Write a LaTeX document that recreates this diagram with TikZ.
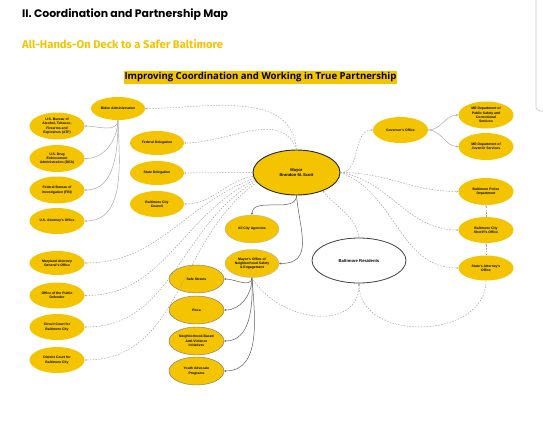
\documentclass[tikz,border=0pt]{standalone}
\usepackage{fontspec}
\setmainfont{Liberation Sans}
\newfontfamily\titlefont{Poppins}
\newfontfamily\subfont{Fira Sans}
\newfontfamily\bannerfont{Open Sans}
\usepackage{xcolor}
\usepackage{tikz}
\usetikzlibrary{shapes.geometric,arrows.meta}
\definecolor{gold}{RGB}{245,196,0}
\definecolor{linkgray}{RGB}{165,165,165}
\definecolor{edgedark}{RGB}{95,95,95}

\begin{document}
\begin{tikzpicture}[x=1pt,y=-1pt,
	office/.style={ellipse, fill=gold, minimum width=55pt, minimum height=26pt, inner sep=0pt, align=center, font=\fontsize{3.4}{4.3}\selectfont\bfseries},
	program/.style={office, draw=black!55, line width=0.4pt, minimum height=28pt},
	fedlink/.style={draw=linkgray, line width=0.45pt, -{Stealth[length=2.2pt,width=2pt]}},
	citylink/.style={draw=edgedark, line width=0.5pt, -{Stealth[length=2.2pt,width=2pt]}},
	partner/.style={draw=linkgray, line width=0.5pt, dash pattern=on 1.5pt off 1.4pt, -{Stealth[length=2pt,width=1.8pt]}},
	]
	\useasboundingbox (0,0) rectangle (543,421);
	\fill[white] (0,0) rectangle (543,421);
	\draw[gray!45, line width=0.6pt, rounded corners=4pt] (536,0) -- (536,111) -- (543,111);

	\node[anchor=west, inner sep=0pt, font=\titlefont\bfseries\fontsize{10.9}{12}\selectfont] at (22,15)(title){II. Coordination and Partnership Map};
	\node[anchor=west, inner sep=0pt, text=gold, font=\subfont\bfseries\fontsize{11.2}{12}\selectfont] at (22,44)(subtitle){All-Hands-On Deck to a Safer Baltimore};
	\node[fill=gold, inner xsep=1pt, inner ysep=1.6pt, font=\bannerfont\bfseries\fontsize{9.6}{11}\selectfont] at (260.5,77.5)(banner){Improving Coordination and Working in True Partnership};

	\node[office, minimum width=54pt, minimum height=23pt] at (118,108.5)(biden){Biden Administration};
	\node[office, minimum height=27pt] at (57,126)(atf){U.S. Bureau of\\Alcohol, Tobacco,\\Firearms and\\Explosives (ATF)};
	\node[office, minimum height=27pt] at (57,158.5)(dea){U.S. Drug\\Enforcement\\Administration (DEA)};
	\node[office, minimum height=27pt] at (57,190)(fbi){Federal Bureau of\\Investigation (FBI)};
	\node[office] at (57,221)(usao){U.S. Attorney's Office};
	\node[office, minimum width=54pt, minimum height=24pt] at (157,143)(fed){Federal Delegation};
	\node[office, minimum width=54pt, minimum height=24pt] at (157,173)(state){State Delegation};
	\node[office, minimum width=54pt] at (157,204)(council){Baltimore City\\Council};
	\node[office, minimum height=24pt] at (57,263)(mdag){Maryland Attorney\\General's Office};
	\node[office] at (57,295.5)(defender){Office of the Public\\Defender};
	\node[office] at (57,327)(circuit){Circuit Court for\\Baltimore City};
	\node[office] at (57,360)(district){District Court for\\Baltimore City};

	\node[office, draw=black!85, line width=0.9pt, minimum width=87pt, minimum height=45pt, font=\fontsize{4.1}{5}\selectfont\bfseries] at (296.5,172.5)(mayor){Mayor\\Brandon M. Scott};
	\node[office, draw=black!30, line width=0.3pt, minimum width=54pt, minimum height=28pt] at (252,229)(agencies){All City Agencies};
	\node[office, draw=black!30, line width=0.3pt, minimum width=54pt, minimum height=28pt] at (252,263.5)(monse){Mayor's Office of\\Neighborhood Safety\\\& Engagement};
	\node[program] at (196.5,279)(safestreets){Safe Streets};
	\node[program] at (196.5,310)(roca){Roca};
	\node[program] at (196.5,341)(antiviolence){Neighborhood-Based\\Anti-Violence\\Initiatives};
	\node[program] at (196.5,371)(youth){Youth Advocate\\Programs};
	\node[ellipse, fill=white, draw=black!75, line width=0.8pt, minimum width=94pt, minimum height=45pt, inner sep=0pt, font=\fontsize{4.2}{5}\selectfont\bfseries] at (359,260.5)(residents){Baltimore Residents};

	\node[office] at (400.5,130)(governor){Governor's Office};
	\node[office, minimum height=27pt] at (486,115)(dpscs){MD Department of\\Public Safety and\\Correctional\\Services};
	\node[office, minimum height=27pt] at (486,146.5)(djs){MD Department of\\Juvenile Services};
	\node[office, minimum height=27pt] at (486,191.5)(police){Baltimore Police\\Department};
	\node[office] at (486,230)(sheriff){Baltimore City\\Sheriff's Office};
	\node[office, minimum height=25pt] at (486,268)(attorney){State's Attorney's\\Office};

	\draw[fedlink](biden.south) to[out=-95,in=0] (atf.east);
	\draw[fedlink](biden.south) to[out=-92,in=0] (dea.east);
	\draw[fedlink](biden.south) to[out=-90,in=0] (fbi.east);
	\draw[fedlink](biden.south) to[out=-88,in=0] (usao.east);
	\draw[fedlink](governor.east) to[out=0,in=180] (dpscs.west);
	\draw[fedlink](governor.east) to[out=0,in=180] (djs.west);

	\draw[citylink](mayor.south) to[out=-90,in=90] (agencies.north);
	\draw[citylink](mayor.south) to[out=-85,in=0,looseness=1.3] (monse.east);
	\draw[citylink](monse.south) to[out=-95,in=0] (safestreets.east);
	\draw[citylink](monse.south) to[out=-90,in=0] (roca.east);
	\draw[citylink](monse.south) to[out=-88,in=0] (antiviolence.east);
	\draw[citylink](monse.south) to[out=-86,in=0] (youth.east);

	\draw[partner](mayor.north) to[out=95,in=0] (biden.east);
	\draw[partner](mayor.north) to[out=110,in=0] (fed.east);
	\draw[partner](mayor.west) to[out=180,in=0] (state.east);
	\draw[partner](mayor.185) to[out=190,in=0] (council.east);
	\draw[partner](mayor.188) to[out=200,in=0] (mdag.east);
	\draw[partner](mayor.190) to[out=205,in=0] (defender.east);
	\draw[partner](mayor.192) to[out=210,in=0] (circuit.east);
	\draw[partner](mayor.194) to[out=215,in=0] (district.east);
	\draw[partner](mayor.east) to[out=0,in=180] (governor.west);
	\draw[partner](mayor.east) to[out=0,in=180] (police.west);
	\draw[partner](mayor.east) to[out=-10,in=180] (sheriff.west);
	\draw[partner](mayor.east) to[out=-20,in=180] (attorney.west);
	\draw[partner](sheriff.north) -- (police.south);
	\draw[partner](attorney.north) -- (sheriff.south);
	\draw[partner](residents.north) to[out=100,in=-50] (mayor.-35);
	\draw[partner](monse.south) to[out=-60,in=-90,looseness=1.2] (residents.south);
	\draw[partner](attorney.south) to[out=-90,in=-90,looseness=1.2] (residents.south);
\end{tikzpicture}
\end{document}
